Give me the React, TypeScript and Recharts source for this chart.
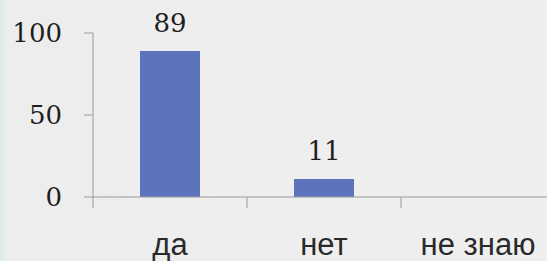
import { BarChart, Bar, XAxis, YAxis, LabelList } from 'recharts';

const categories = ['да', 'нет', 'не знаю'];
const values = [89, 11, 0];
const yTicks = [0, 50, 100];

const BAR_COLOR = '#5b74bc';
const AXIS_COLOR = '#9a9a9a';
const TEXT_COLOR = '#1e1e1e';

const data = categories.map((name, i) => ({ name, value: values[i] }));

// category tick: label centred in the band plus a divider tick at the band's left edge
function CategoryTick(props: any) {
  const { x, y, payload } = props;
  const half = payload?.offset ?? 77;
  return (
    <g>
      <line x1={x - half} x2={x - half} y1={y} y2={y + 11} stroke={AXIS_COLOR} strokeWidth={1} />
      <text
        x={x}
        y={y + 58}
        textAnchor="middle"
        fill="#2a2a2a"
        fontFamily="'Liberation Sans', Arial, sans-serif"
        fontSize={31}
      >
        {payload.value}
      </text>
    </g>
  );
}

function ValueTick(props: any) {
  const { y, payload } = props;
  return (
    <text
      x={62}
      y={y}
      textAnchor="end"
      dominantBaseline="central"
      fill={TEXT_COLOR}
      fontFamily="'DejaVu Serif', serif"
      fontSize={26}
    >
      {payload.value}
    </text>
  );
}

function BarValue(props: any) {
  const { x, y, width, value } = props;
  if (!value) return null;
  return (
    <text
      x={x + width / 2}
      y={y - 19}
      textAnchor="middle"
      fill={TEXT_COLOR}
      fontFamily="'DejaVu Serif', serif"
      fontSize={26}
    >
      {value}
    </text>
  );
}

export default function App() {
  return (
    <div
      style={{
        position: 'fixed',
        top: 0,
        left: 0,
        width: 547,
        height: 261,
        overflow: 'hidden',
        background: 'linear-gradient(90deg, #dbebe3 0px, #e9efec 6px, #ededed 12px, #efefef 100%)',
      }}
    >
      <BarChart width={560} height={261} data={data} margin={{ top: 33, right: 5, bottom: 0, left: 0 }}>
        <XAxis
          dataKey="name"
          height={64}
          stroke={AXIS_COLOR}
          tickLine={false}
          tickSize={0}
          tickMargin={0}
          tick={<CategoryTick />}
          interval={0}
        />
        <YAxis
          width={93}
          domain={[0, 100]}
          ticks={yTicks}
          stroke={AXIS_COLOR}
          tickSize={9}
          tick={<ValueTick />}
        />
        <Bar dataKey="value" fill={BAR_COLOR} barSize={60} isAnimationActive={false}>
          <LabelList dataKey="value" content={<BarValue />} />
        </Bar>
      </BarChart>
    </div>
  );
}
